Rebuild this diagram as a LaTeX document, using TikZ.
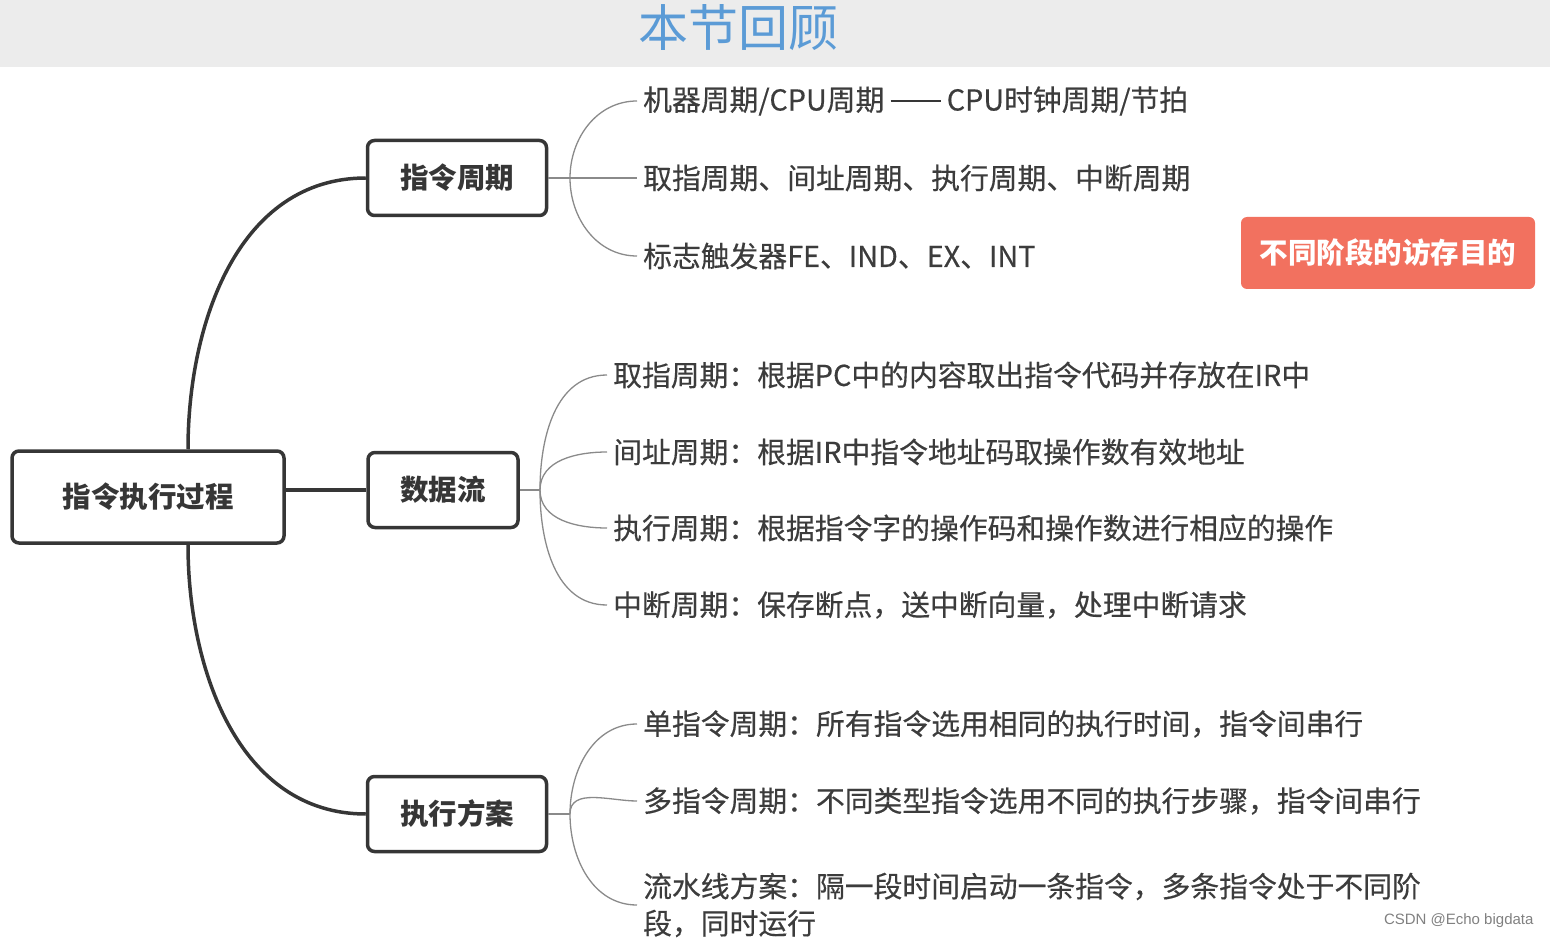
\documentclass[tikz,border=0pt]{standalone}
\usepackage{fontspec}
\setmainfont{Noto Sans CJK SC}
\newfontfamily\leaffont{Noto Sans CJK SC}[FakeBold=0.4]
\newfontfamily\wmfont{Liberation Sans}
\usepackage{xcolor}
\usepackage{tikz}
\usetikzlibrary{positioning}

\definecolor{inkgray}{HTML}{363636}
\definecolor{leafgray}{HTML}{3C3C3C}
\definecolor{twiggray}{HTML}{8A8A8A}
\definecolor{bandgray}{HTML}{ECECEC}
\definecolor{titleblue}{HTML}{5B9BD6}
\definecolor{notered}{HTML}{F2715F}

\begin{document}
\begin{tikzpicture}[
   x=1pt,y=-1pt,
   box/.style={draw=inkgray,line width=3.5pt,rounded corners=7pt,fill=white,
               minimum height=75pt,text=inkgray,
               font=\fontsize{28.5}{34}\selectfont\bfseries},
   leaf/.style={anchor=west,inner xsep=6pt,inner ysep=2pt,text=leafgray,
                align=left,font=\leaffont\fontsize{28.8}{37}\selectfont},
   trunk/.style={draw=inkgray,line width=3.5pt},
   twig/.style={draw=twiggray,line width=1.3pt}
  ]
  \useasboundingbox (0,0) rectangle (1550,941);
  \fill[bandgray] (0,0) rectangle (1550,67);
  \node[text=titleblue,font=\fontsize{50}{50}\selectfont] (title) at (738,28) {本节回顾};

  % main boxes
  \node[box,minimum width=272pt,minimum height=92pt] (root) at (148,497) {指令执行过程};
  \node[box,minimum width=179pt] (cyc)  at (457,178) {指令周期};
  \node[box,minimum width=150pt] (flow) at (443,490) {数据流};
  \node[box,minimum width=179pt] (plan) at (457,814) {执行方案};
  \node[fill=notered,rounded corners=6pt,minimum width=294pt,minimum height=72pt,
        text=white,font=\fontsize{28.5}{34}\selectfont\bfseries] (goal) at (1388,253) {不同阶段的访存目的};

  \draw[trunk] ([xshift=40pt]root.north) to[out=90,in=180] (cyc.west);
  \draw[trunk] (root.east |- flow.west) -- (flow.west);
  \draw[trunk] ([xshift=40pt]root.south) to[out=-90,in=180] (plan.west);

  % instruction cycle
  \node[leaf] (c1) at (637,101) {机器周期/CPU周期};
  \node[leaf,right=50pt of c1] (c1b) {CPU时钟周期/节拍};
  \node[leaf] (c2) at (637,178) {取指周期、间址周期、执行周期、中断周期};
  \node[leaf] (c3) at (637,256) {标志触发器FE、IND、EX、INT};
  \coordinate (jc) at (570,178);
  \draw[twig] (cyc.east) -- (jc);
  \draw[twig] (jc) to[out=90,in=180] (c1.west);
  \draw[twig] (jc) -- (c2.west);
  \draw[twig] (jc) to[out=-90,in=180] (c3.west);
  \draw[twig,draw=inkgray] (c1.east) -- (c1b.west);

  % data flow
  \node[leaf] (f1) at (607,375) {取指周期：根据PC中的内容取出指令代码并存放在IR中};
  \node[leaf] (f2) at (607,452) {间址周期：根据IR中指令地址码取操作数有效地址};
  \node[leaf] (f3) at (607,528) {执行周期：根据指令字的操作码和操作数进行相应的操作};
  \node[leaf] (f4) at (607,605) {中断周期：保存断点，送中断向量，处理中断请求};
  \coordinate (jf) at (540,490);
  \draw[twig] (flow.east) -- (jf);
  \foreach \f in {f1,f2} \draw[twig] (jf) to[out=90,in=180] (\f.west);
  \foreach \f in {f3,f4} \draw[twig] (jf) to[out=-90,in=180] (\f.west);

  % execution schemes
  \node[leaf] (p1) at (637,724) {单指令周期：所有指令选用相同的执行时间，指令间串行};
  \node[leaf] (p2) at (637,801) {多指令周期：不同类型指令选用不同的执行步骤，指令间串行};
  \node[leaf] (p3) at (637,905) {流水线方案：隔一段时间启动一条指令，多条指令处于不同阶\\段，同时运行};
  \coordinate (jp) at (570,814);
  \draw[twig] (plan.east) -- (jp);
  \draw[twig] (jp) to[out=90,in=180] (p1.west);
  \draw[twig] (jp) to[out=90,in=180] (p2.west);
  \draw[twig] (jp) to[out=-90,in=180] (p3.west);

  \node[anchor=east,text=gray,font=\wmfont\fontsize{15}{15}\selectfont] (mark) at (1537,921) {CSDN @Echo bigdata};
\end{tikzpicture}
\end{document}
